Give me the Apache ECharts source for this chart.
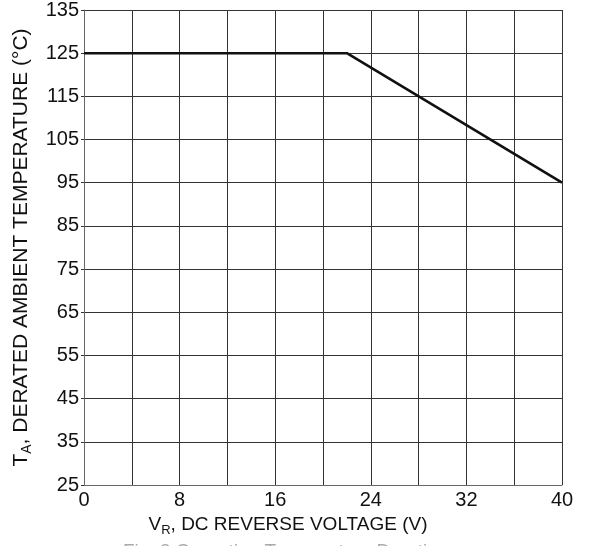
<!DOCTYPE html>
<html>
<head>
<meta charset="utf-8">
<script src="https://cdn.jsdelivr.net/npm/echarts@6/dist/echarts.min.js"></script>
<style>html,body{margin:0;padding:0;background:#fff;}#c{width:591px;height:546px;}</style>
</head>
<body>
<div id="c"></div>
<script>
var xValues = [0, 22, 40];
var yValues = [125, 125, 95];
var xTickLabels = [0, 8, 16, 24, 32, 40];
var yTickLabels = [25, 35, 45, 55, 65, 75, 85, 95, 105, 115, 125, 135];

var chart = echarts.init(document.getElementById('c'), null, {renderer: 'canvas'});
var font = '"Liberation Sans", Arial, sans-serif';
var data = xValues.map(function (x, i) { return [x, yValues[i]]; });

chart.setOption({
  animation: false,
  backgroundColor: '#fff',
  textStyle: {fontFamily: font},
  grid: {left: 84, right: 29, top: 8, bottom: 61, containLabel: false},
  xAxis: {
    type: 'value', min: 0, max: 40, interval: 4,
    axisLine: {show: true, lineStyle: {color: '#666', width: 1}},
    axisTick: {show: false},
    splitLine: {show: true, lineStyle: {color: '#333', width: 1}},
    axisLabel: {
      color: '#111', fontSize: 20, fontFamily: font, margin: 5,
      formatter: function (v) { return xTickLabels.indexOf(v) >= 0 ? String(v) : ''; }
    },
    name: '{n|V}{s|R}{n|, DC REVERSE VOLTAGE (V)}',
    nameLocation: 'middle', nameGap: 28,
    nameTextStyle: {
      color: '#111', fontFamily: font,
      padding: [0, 70, 0, 0],
      rich: {
        n: {fontSize: 19, fontFamily: font, color: '#111'},
        s: {fontSize: 13, fontFamily: font, color: '#111', padding: [11, 0, 0, 0]}
      }
    }
  },
  yAxis: {
    type: 'value', min: 25, max: 135, interval: 10,
    axisLine: {show: true, lineStyle: {color: '#666', width: 1}},
    axisTick: {show: true, length: 3, lineStyle: {color: '#333'}},
    splitLine: {show: true, lineStyle: {color: '#333', width: 1}},
    axisLabel: {
      color: '#111', fontSize: 20, fontFamily: font, margin: 5,
      formatter: function (v) { return yTickLabels.indexOf(v) >= 0 ? String(v) : ''; }
    },
    name: '{n|T}{s|A}{n|, DERATED AMBIENT TEMPERATURE (°C)}',
    nameLocation: 'middle', nameGap: 50,
    nameTextStyle: {
      color: '#111', fontFamily: font,
      rich: {
        n: {fontSize: 21, fontFamily: font, color: '#111'},
        s: {fontSize: 14, fontFamily: font, color: '#111', padding: [12, 0, 0, 0]}
      }
    }
  },
  series: [{
    type: 'line',
    data: data,
    showSymbol: false,
    lineStyle: {color: '#111', width: 2.6},
    z: 5
  }],
  graphic: [{
    type: 'text', left: 123, top: 542, silent: true,
    style: {text: 'Fig. 3 Operating Temperature Derating', fill: '#aaa', font: '19px ' + font}
  }]
});
</script>
</body>
</html>
